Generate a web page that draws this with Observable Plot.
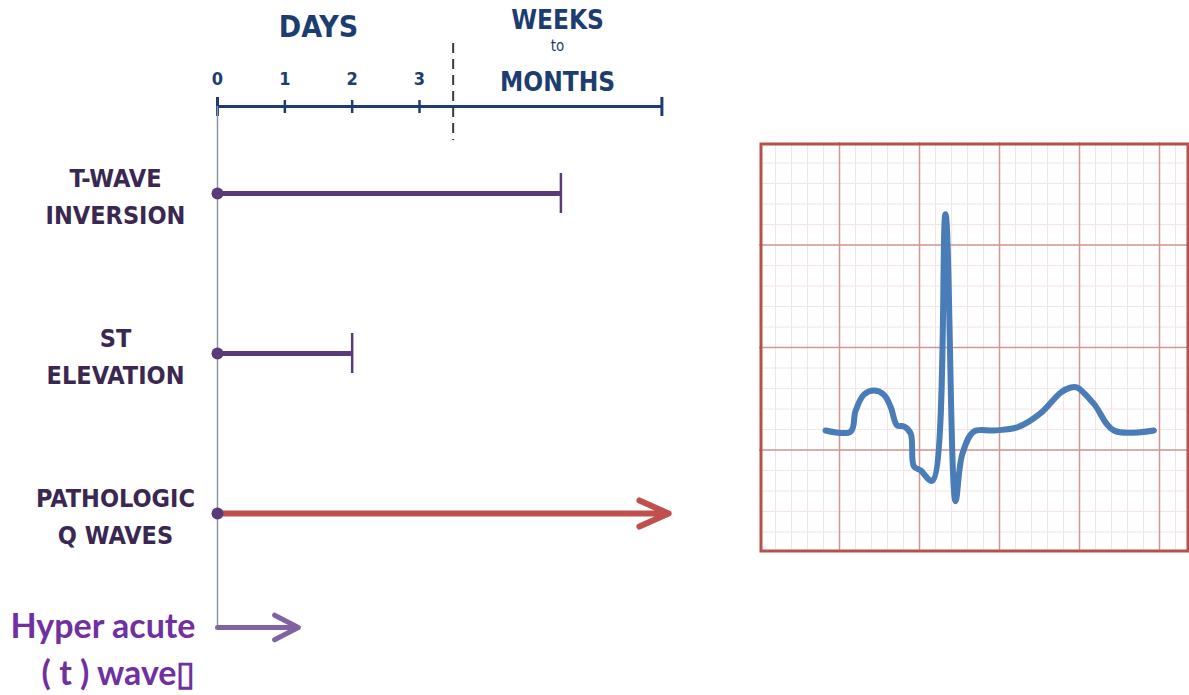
<!DOCTYPE html>
<html><head><meta charset="utf-8">
<script src="https://cdn.jsdelivr.net/npm/d3@7"></script>
<script src="https://cdn.jsdelivr.net/npm/@observablehq/plot@0.6"></script>
<style>
html,body{margin:0;padding:0;background:#fff;}
#chart{position:relative;width:1189px;height:695px;overflow:hidden;background:#fff;}
#chart svg{position:absolute;}
</style></head><body><div id="chart"></div>
<script>
// ---- Timeline (units: 0–3 = days; beyond the divider = weeks to months)
const dayTicks = [0, 1, 2, 3];
const axisEnds = [0, 6.6];
const phaseDivider = [3.5];

const findings = ["T-wave inversion", "ST elevation", "Pathologic Q waves"];
const findingLabels = ["T-WAVE\nINVERSION", "ST\nELEVATION", "PATHOLOGIC\nQ WAVES"];
const findingStart = [0, 0, 0];
const findingEnd = [5.1, 2, 6.7];
const findingPersists = [false, false, true];

const hyperName = ["Hyper acute (t) wave"];
const hyperLabel = ["Hyper acute\n( t ) wave\u25AF"];
const hyperStart = [0];
const hyperEnd = [1.2];

// ---- ECG trace: time (s), voltage (mV)
const ecgT = [0.165, 0.228, 0.240, 0.261, 0.286, 0.311, 0.328, 0.344, 0.361, 0.378, 0.386, 0.403, 0.432, 0.465, 0.490, 0.507, 0.536, 0.586, 0.644, 0.703, 0.753, 0.778, 0.794, 0.836, 0.886, 0.986];
const ecgV = [-0.405, -0.41, -0.31, -0.23, -0.21, -0.23, -0.29, -0.38, -0.385, -0.42, -0.58, -0.60, -0.65, 0.65, -0.75, -0.52, -0.41, -0.405, -0.39, -0.32, -0.22, -0.195, -0.195, -0.275, -0.405, -0.405];
const ecgMajorT = [0.2, 0.4, 0.6, 0.8, 1.0];
const ecgMajorV = [-0.5, 0, 0.5];

// ---- styles
const NAVY = "#1d3d70";
const PURPLE = "#5a3a78";
const LABEL = "#3a2752";
const RED = "#c0504d";
const HAND = "'Liberation Sans Narrow', 'DejaVu Sans Condensed', 'Noto Sans', sans-serif";
const clear = {background: "transparent", overflow: "visible"};
const X = {domain: [0, 3], range: [217, 419], axis: null};

const rows = findings.map((name, i) => ({name, label: findingLabels[i], start: findingStart[i], end: findingEnd[i], persists: findingPersists[i]}));
const hyper = hyperName.map((name, i) => ({name, label: hyperLabel[i], start: hyperStart[i], end: hyperEnd[i]}));
const phaseMid = [(dayTicks[0] + dayTicks[3]) / 2, (phaseDivider[0] + axisEnds[1]) / 2];

const chart = document.getElementById("chart");
function place(make, left, top) {
  try { const svg = make(); svg.style.left = left + "px"; svg.style.top = top + "px"; chart.appendChild(svg); }
  catch (e) { console.error(e); }
}

// Header axis
place(() => Plot.plot({
  width: 740, height: 150, marginTop: 90, marginBottom: 28, marginLeft: 0, marginRight: 0,
  x: X, style: clear,
  marks: [
    Plot.ruleY([axisEnds], {y: null, x1: d => d[0], x2: d => d[1], stroke: NAVY, strokeWidth: 3}),
    Plot.tickX(dayTicks.slice(1), {x: d => d, insetTop: 10, insetBottom: 9, stroke: NAVY, strokeWidth: 2.5}),
    Plot.tickX(axisEnds, {x: d => d, insetTop: 7, insetBottom: 6, stroke: NAVY, strokeWidth: 3}),
    Plot.ruleX(phaseDivider, {x: d => d, insetTop: -47, insetBottom: -18, stroke: "#3a3a3a", strokeWidth: 2, strokeDasharray: "10,6"}),
    Plot.text(dayTicks, {x: d => d, text: d => String(d), frameAnchor: "top", lineAnchor: "middle", dy: -11, fontSize: 18, fontWeight: "bold", fill: NAVY, fontFamily: HAND}),
    Plot.text(["DAYS"], {x: () => phaseMid[0], text: d => d, frameAnchor: "top", lineAnchor: "middle", dy: -63, fontSize: 30, fontWeight: "bold", fill: NAVY, fontFamily: HAND}),
    Plot.text(["WEEKS"], {x: () => phaseMid[1], text: d => d, frameAnchor: "top", lineAnchor: "middle", dy: -70, fontSize: 26, fontWeight: "bold", fill: NAVY, fontFamily: HAND}),
    Plot.text(["to"], {x: () => phaseMid[1], text: d => d, frameAnchor: "top", lineAnchor: "middle", dy: -44, fontSize: 15, fill: NAVY, fontFamily: HAND}),
    Plot.text(["MONTHS"], {x: () => phaseMid[1], text: d => d, frameAnchor: "top", lineAnchor: "middle", dy: -8, fontSize: 26, fontWeight: "bold", fill: NAVY, fontFamily: HAND})
  ]
}), 0, 0);

// Findings
place(() => Plot.plot({
  width: 740, height: 695, marginTop: 106, marginBottom: 68, marginLeft: 0, marginRight: 0,
  x: X, y: {type: "point", domain: findings, range: [192, 513], padding: 0, axis: null}, style: clear,
  marks: [
    Plot.ruleX([0], {x: d => d, stroke: "#8a98a8", strokeWidth: 1.5}),
    Plot.ruleY(rows.filter(d => !d.persists), {y: "name", x1: "start", x2: "end", stroke: PURPLE, strokeWidth: 5}),
    Plot.ruleX(rows.filter(d => !d.persists), {x: "end", y1: "name", y2: "name", insetTop: -20, insetBottom: -20, stroke: PURPLE, strokeWidth: 2.5}),
    Plot.arrow(rows.filter(d => d.persists), {x1: "start", x2: "end", y1: "name", y2: "name", stroke: RED, strokeWidth: 6, headAngle: 48, headLength: 8, strokeLinecap: "round", strokeLinejoin: "round"}),
    Plot.dot(rows, {x: "start", y: "name", r: 6, fill: PURPLE}),
    Plot.text(rows, {x: "start", y: "name", text: "label", dx: -102, textAnchor: "middle", lineAnchor: "middle", lineHeight: 1.5, fontSize: 25, fontWeight: "bold", fill: LABEL, fontFamily: HAND})
  ]
}), 0, 0);

// Hyper-acute annotation
place(() => Plot.plot({
  width: 740, height: 695, marginTop: 0, marginBottom: 0, marginLeft: 0, marginRight: 0,
  x: X, y: {type: "point", domain: hyperName, range: [627, 627], padding: 0, axis: null}, style: clear,
  marks: [
    Plot.arrow(hyper, {x1: "start", x2: "end", y1: "name", y2: "name", stroke: "#8064a2", strokeWidth: 5, headAngle: 55, headLength: 8, strokeLinecap: "round", strokeLinejoin: "round"}),
    Plot.text(hyper, {x: "start", y: "name", text: "label", dx: -22, dy: 19, textAnchor: "end", lineAnchor: "middle", lineHeight: 1.38, fontSize: 34, fontWeight: 700, fill: "#7030a0", fontFamily: "Lato, 'Open Sans', sans-serif"})
  ]
}), 0, 0);

// ECG panel
const ecg = ecgT.map((t, i) => ({t, v: ecgV[i]}));
place(() => Plot.plot({
  width: 430, height: 410, margin: 0,
  x: {domain: [0, 1.075], axis: null}, y: {domain: [-1, 1], axis: null}, style: clear,
  marks: [
    Plot.ruleX(d3.range(0.04, 1.075, 0.04), {x: d => d, stroke: "#f4e4e4", strokeWidth: 1}),
    Plot.ruleY(d3.range(-0.9, 1.0, 0.1), {y: d => d, stroke: "#f4e4e4", strokeWidth: 1}),
    Plot.ruleX(ecgMajorT, {x: d => d, stroke: "#d39693", strokeWidth: 1.5}),
    Plot.ruleY(ecgMajorV, {y: d => d, stroke: "#d39693", strokeWidth: 1.5}),
    Plot.frame({stroke: "#b5504b", strokeWidth: 3, inset: 1.5}),
    Plot.line(ecg, {x: "t", y: "v", stroke: "#4a7cb8", strokeWidth: 6, curve: "catmull-rom", strokeLinecap: "round", strokeLinejoin: "round"})
  ]
}), 759, 142);
</script></body></html>
